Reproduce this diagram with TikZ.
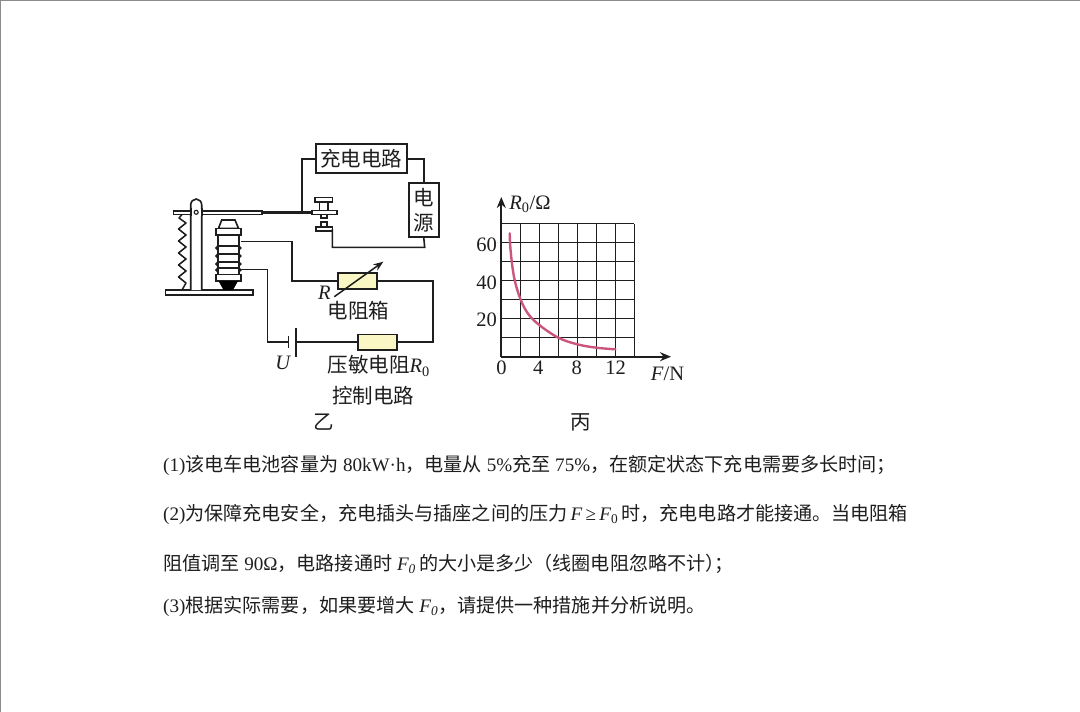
\documentclass[tikz,border=0pt]{standalone}
\usepackage{fontspec}
\setmainfont{Liberation Serif}
\newfontfamily\cjk{Noto Sans CJK SC}
\usetikzlibrary{arrows.meta}
\definecolor{ink}{HTML}{1E1E1E}
\definecolor{resfill}{HTML}{FBF7C4}
\definecolor{curvecol}{HTML}{CC5580}
\definecolor{edgegray}{HTML}{8C8C8C}
\newcommand{\zh}[1]{{\cjk #1}}
\newcommand{\ix}[1]{\textit{#1}}
\tikzset{
  x=1pt,y=-1pt,
  wire/.style={draw=ink,line width=1.6pt},
  part/.style={draw=ink,line width=1.6pt,fill=white},
  box/.style={draw=ink,line width=1.7pt,inner sep=0pt,fill=white},
  resistor/.style={draw=ink,line width=1.7pt,inner sep=0pt,fill=resfill},
  label/.style={inner sep=0pt,text=ink,font=\fontsize{20.5}{23}\selectfont},
  para/.style={inner sep=0pt,anchor=base west,text=ink,font=\fontsize{19.1}{21}\selectfont},
  axis/.style={draw=ink,line width=1.8pt,-{Stealth[length=11pt,width=9pt]}},
  gridline/.style={draw=ink,line width=1.1pt},
}
\begin{document}
\begin{tikzpicture}
\useasboundingbox (0,0) rectangle (1080,712);
\fill[white] (0,0) rectangle (1080,712);
\draw[edgegray,line width=1pt] (0.5,712) -- (0.5,0.5) -- (1080,0.5);

% boxes
\node[box,minimum width=90.7pt,minimum height=29pt] (charge) at (361.6,158.8) {};
\node[label] (chargetext) at (361,158.8) {\zh{充电电路}};
\node[box,minimum width=29.7pt,minimum height=54pt,align=center] (source) at (423.8,210.3) {};
\node[label] (sourceA) at (423.5,198) {\zh{电}};
\node[label] (sourceB) at (423.5,223) {\zh{源}};

% relay: named points
\coordinate (armwire) at (301.7,212.3);
\coordinate (lowcontact) at (332.3,229);
\coordinate (lowcorner) at (424.7,247.3);
\coordinate (coiltop) at (241,241.3);
\coordinate (coilbot) at (241,269.3);
\coordinate (batA) at (288.3,342.2);
\coordinate (batB) at (295.7,342.2);

% base, post
\draw[part] (165.5,290) rectangle (253,295);
\draw[part] (190.7,290) -- (190.7,205) arc[start angle=180,end angle=0,x radius=5.5pt,y radius=6pt] -- (201.7,290);
% lever
\draw[part] (173.5,210.7) rectangle (262,214.3);
\fill[white] (190.9,209) rectangle (201.5,216);
\draw[ink,line width=1.6pt] (190.7,208) -- (190.7,216) (201.7,208) -- (201.7,216);
\draw[ink,line width=1.1pt] (196.2,212.3) circle[radius=2pt];
\draw[ink,line width=2.4pt] (262,212.3) -- (312,212.3);
% spring
\draw[ink,line width=1.5pt,line join=round] (182,214.5) -- (179,218)
  -- (186,223) -- (178.5,229) -- (186,235) -- (178.5,241) -- (186,247) -- (178.5,253)
  -- (186,259) -- (178.5,265) -- (186,271) -- (178.5,277) -- (186,283) -- (182,290);
% upper contact
\draw[part] (319.3,201.7) rectangle (327.7,210.3);
\draw[part] (315,197.3) rectangle (332.3,201.7);
\draw[part] (320.7,214.3) rectangle (326.7,218);
\draw[part] (311.7,210.3) rectangle (336.7,214.3);
\draw[part] (320.7,221.7) rectangle (326.7,226.7);
\draw[part] (315.7,226.7) rectangle (332.3,231);
% electromagnet
\draw[part] (221.7,220) -- (235,220) -- (238.5,228.3) -- (218.5,228.3) -- cycle;
\draw[part] (217.7,235) rectangle (239,274.3);
\foreach \yy in {246,254,262,268}{
  \draw[ink,line width=1.4pt] (217.7,\yy) -- (239,\yy);
  \draw[ink,line width=1.4pt] (239,\yy) .. controls (241.5,\yy+0.5) and (241.5,\yy+3.5) .. (239,\yy+4);
  \draw[ink,line width=1.4pt] (217.7,\yy) .. controls (215.2,\yy+0.5) and (215.2,\yy+3.5) .. (217.7,\yy+4);
}
\draw[part] (215.7,228.3) rectangle (241,235);
\draw[part] (215.7,274.3) rectangle (241,281);
\fill[black] (218.5,281) -- (238,281) -- (233,290) -- (223.5,290) -- cycle;

% resistors
\node[resistor,minimum width=39pt,minimum height=15.7pt] (boxR) at (357.8,281) {};
\node[resistor,minimum width=39.3pt,minimum height=15.7pt] (boxRz) at (377.4,342.2) {};
\coordinate (loopcorner) at (432.7,281);

% wires
\draw[wire] (charge.west) -| (armwire);
\draw[wire] (charge.east) -| (source.north);
\draw[wire] (lowcontact) |- (lowcorner) -- (source.south);
\draw[wire] (coiltop) -| (291.7,281) -- (boxR.west);
\draw[wire] (boxR.east) -- (loopcorner) |- (boxRz.east);
\draw[wire] (coilbot) -| (267.5,342.2) -- (batA);
\draw[wire] (batB) -- (boxRz.west);
% battery
\draw[ink,line width=1.6pt] (288.3,336) -- (288.3,348.3);
\draw[ink,line width=1.8pt] (295.7,327.7) -- (295.7,356.7);
% rheostat arrow
\coordinate (arrA) at (334.3,296.7);
\coordinate (arrB) at (383.3,261.7);
\draw[ink,line width=1.5pt,-{Stealth[length=10pt,width=7.5pt]}] (arrA) -- (arrB);

% circuit labels
\node[label] (labR) at (324.5,293) {\ix{R}};
\node[label] (labBox) at (358.3,310.7) {\zh{电阻箱}};
\node[label] (labU) at (283.3,362.7) {\ix{U}};
\node[label,anchor=west] (labRz) at (327.5,366) {\zh{压敏电阻}\ix{R}\textsubscript{0}};
\node[label] (labCtrl) at (373.3,396) {\zh{控制电路}};
\node[label] (labYi) at (323.5,422) {\zh{乙}};
\node[label] (labBing) at (581,422) {\zh{丙}};

% graph
\foreach \i in {1,...,7}{
  \draw[gridline] (501.3+19*\i,356.7) -- (501.3+19*\i,223.7);
  \draw[gridline] (501.3,356.7-19*\i) -- (634.3,356.7-19*\i);
}
\coordinate (org) at (501.3,356.7);
\coordinate (xtip) at (671,356.7);
\coordinate (ytip) at (501.3,197);
\draw[axis] (org) -- (xtip);
\draw[axis] (org) -- (ytip);
\draw[curvecol,line width=2.4pt,line cap=round] plot[smooth,tension=0.6] coordinates {
 (509.7,233.3) (510.7,251.7) (514.3,278.3) (520.7,299.7) (528.3,314) (539.3,325)
 (558.3,337.7) (577.3,344.3) (596.3,347.7) (615.3,349.3)};
\node[label] (y60) at (486.7,244.5) {60};
\node[label] (y40) at (486.7,282.5) {40};
\node[label] (y20) at (486.7,320) {20};
\node[label] (x0) at (501.5,367.7) {0};
\node[label] (x4) at (538.3,367.7) {4};
\node[label] (x8) at (576.7,367.7) {8};
\node[label] (x12) at (615.7,367.7) {12};
\node[label] (xname) at (667.5,373.5) {\ix{F}/N};
\node[label] (yname) at (530,204) {\ix{R}\textsubscript{0}/Ω};

% question text
\node[para] (q1) at (163,471.5) {(1)\zh{该电车电池容量为} 80kW·h\zh{，电量从} 5\%\zh{充至} 75\%\zh{，在额定状态下充电需要多长时间；}};
\node[para] (q2) at (163,520.5) {(2)\zh{为保障充电安全，充电插头与插座之间的压力}\,\ix{F}\,≥\,\ix{F}\textsubscript{0}\,\zh{时，充电电路才能接通。当电阻箱}};
\node[para] (q3) at (163,570) {\zh{阻值调至} 90Ω\zh{，电路接通时} \ix{F\textsubscript{0}}\,\zh{的大小是多少（线圈电阻忽略不计）}\hspace{-10pt}\zh{；}};
\node[para] (q4) at (163,612) {(3)\zh{根据实际需要，如果要增大} \ix{F\textsubscript{0}}\zh{，请提供一种措施并分析说明。}};
\end{tikzpicture}
\end{document}
